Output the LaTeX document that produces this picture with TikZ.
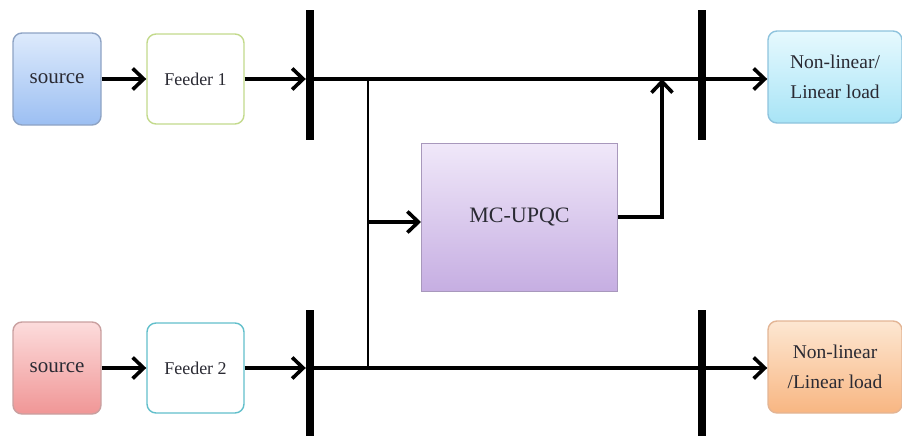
\documentclass[tikz,border=0pt]{standalone}
\usepackage{fontspec}
\setmainfont{Liberation Serif}
\usetikzlibrary{arrows.meta,calc}
\definecolor{srcAtop}{HTML}{DDEAFC}
\definecolor{srcAbot}{HTML}{9CBFF2}
\definecolor{srcAbd}{HTML}{8EA3C4}
\definecolor{srcBtop}{HTML}{FCDCDC}
\definecolor{srcBbot}{HTML}{F09696}
\definecolor{srcBbd}{HTML}{C9A0A0}
\definecolor{fdAbd}{HTML}{C3DA8C}
\definecolor{fdBbd}{HTML}{62BFCB}
\definecolor{ldAtop}{HTML}{E6F9FE}
\definecolor{ldAbot}{HTML}{A8E4F6}
\definecolor{ldAbd}{HTML}{8EC3DD}
\definecolor{ldBtop}{HTML}{FDE7D2}
\definecolor{ldBbot}{HTML}{F8B682}
\definecolor{ldBbd}{HTML}{E3B595}
\definecolor{mcTop}{HTML}{F0E8F9}
\definecolor{mcBot}{HTML}{C6AEE2}
\definecolor{mcBd}{HTML}{A898BC}
\definecolor{txt}{HTML}{2A2A33}
\tikzset{
  blk/.style={rounded corners=9pt, line width=1.4pt, minimum width=88pt, minimum height=92pt, inner sep=0pt, align=center, text=txt},
  srcbox/.style={blk, font=\fontsize{21}{25}\selectfont},
  fdbox/.style={blk, fill=white, minimum width=97pt, minimum height=90pt, font=\fontsize{18}{21}\selectfont},
  ldbox/.style={blk, minimum width=134pt, font=\fontsize{19.5}{30}\selectfont},
  busbar/.style={fill=black, minimum width=8pt, inner sep=0pt},
  arr/.style={line width=3.4pt, -{Straight Barb[length=11pt,width=21pt,line width=3.6pt]}},
  wire/.style={line width=3.4pt},
  tap/.style={line width=2.6pt}
}
\begin{document}
\begin{tikzpicture}[x=1pt,y=-1pt]
\useasboundingbox (0,0) rectangle (902,439);
% sources and feeders
\node[srcbox, top color=srcAtop, bottom color=srcAbot, draw=srcAbd] (s1) at (57,79) {source};
\node[fdbox, draw=fdAbd] (f1) at (195.5,79) {Feeder 1};
\node[srcbox, top color=srcBtop, bottom color=srcBbot, draw=srcBbd] (s2) at (57,368) {source};
\node[fdbox, draw=fdBbd] (f2) at (195.5,368) {Feeder 2};
% buses
\node[busbar, minimum height=130pt] (b1) at (310,75) {};
\node[busbar, minimum height=130pt] (b2) at (702,75) {};
\node[busbar, minimum height=126pt] (b3) at (310,373) {};
\node[busbar, minimum height=126pt] (b4) at (702,373) {};
% loads
\node[ldbox, top color=ldAtop, bottom color=ldAbot, draw=ldAbd] (l1) at (835,77) {Non-linear/\\Linear load};
\node[ldbox, top color=ldBtop, bottom color=ldBbot, draw=ldBbd] (l2) at (835,367) {Non-linear\\/Linear load};
% compensator
\node[draw=mcBd, line width=1pt, top color=mcTop, bottom color=mcBot, minimum width=196pt, minimum height=148pt, text=txt, font=\fontsize{22}{26}\selectfont] (mc) at (519.5,217) {MC-UPQC};
% junction points
\coordinate (j1) at (368,79);
\coordinate (j2) at (368,368);
\coordinate (jm) at (368,222);
\coordinate (ko) at (662,217);
\coordinate (kt) at (662,79);
% connectors
\draw[arr] (s1.east) -- (f1.west);
\draw[arr] (f1.east) -- (f1.east -| b1.west);
\draw[arr] (s2.east) -- (f2.west);
\draw[arr] (f2.east) -- (f2.east -| b3.west);
\draw[arr] (j1 -| b1.center) -- (j1 -| l1.west);
\draw[arr] (j2 -| b3.center) -- (j2 -| l2.west);
\draw[tap] (j1) -- (j2);
\draw[arr] (jm) -- (jm -| mc.west);
\draw[wire, line join=miter] (ko -| mc.east) -- (ko) -- ($(kt)+(0,6)$);
\draw[arr] ($(ko)+(0,-10)$) -- (kt);
\end{tikzpicture}
\end{document}
